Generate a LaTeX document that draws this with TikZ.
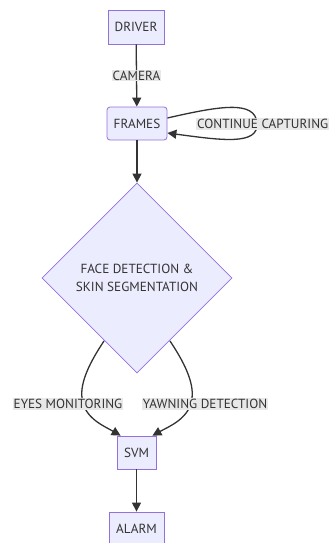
\documentclass[tikz,border=0pt]{standalone}
\usepackage{fontspec}
\setmainfont{PT Sans}
\usetikzlibrary{arrows.meta,shapes.geometric}
\definecolor{nodefill}{HTML}{ECECFF}
\definecolor{nodeline}{HTML}{9370DB}
\definecolor{edgecol}{HTML}{333333}
\definecolor{lblbg}{HTML}{E8E8E8}
\begin{document}
\begin{tikzpicture}[x=1pt,y=-1pt,
  font=\fontsize{13.2}{15}\selectfont, text=edgecol,
  box/.style={draw=nodeline, fill=nodefill, line width=0.8pt, inner sep=0pt, minimum height=34pt},
  rbox/.style={box, rounded corners=3pt},
  dec/.style={diamond, draw=nodeline, fill=nodefill, line width=0.8pt, inner sep=0pt, minimum width=190pt, minimum height=190pt, align=center},
  lbl/.style={fill=lblbg, inner sep=1pt},
  edge/.style={draw=edgecol, line width=1.3pt, -{Triangle[length=9pt,width=9pt]}}]
\useasboundingbox (0,0) rectangle (331,543);
\node[box, minimum width=56pt] (driver) at (136,27) {DRIVER};
\node[rbox, minimum width=60pt, minimum height=33pt] (frames) at (137,123.5) {FRAMES};
\node[dec] (face) at (137,278) {FACE DETECTION \&\\[3pt]SKIN SEGMENTATION};
\node[box, minimum width=39pt, minimum height=33pt] (svm) at (136.5,452.5) {SVM};
\node[box, minimum width=55pt] (alarm) at (136.5,529) {ALARM};

\draw[edge] (driver) -- node[lbl] (cam) {CAMERA} (frames);
\draw[edge] (frames) -- (face.north);
\draw[edge] ([yshift=5.5pt]frames.east) .. controls (220,106) and (255,100) .. (257,123)
  .. controls (259,146) and (220,140) .. ([yshift=-9.5pt]frames.east);
\node[lbl, anchor=west] (cont) at (196,124) {CONTINUE CAPTURING};
\coordinate (lstart) at (104,341);
\coordinate (rstart) at (170,341);
\draw[edge] (lstart) .. controls (90,362) and (80,382) .. (82,398)
  .. controls (84,418) and (104,426) .. ([xshift=4pt]svm.north west);
\draw[edge] (rstart) .. controls (184,362) and (194,382) .. (192,398)
  .. controls (190,418) and (170,426) .. ([xshift=-4pt]svm.north east);
\node[lbl] (eyes) at (68,404) {EYES MONITORING};
\node[lbl] (yawn) at (205,404) {YAWNING DETECTION};
\draw[edge] (svm) -- (alarm);
\end{tikzpicture}
\end{document}
